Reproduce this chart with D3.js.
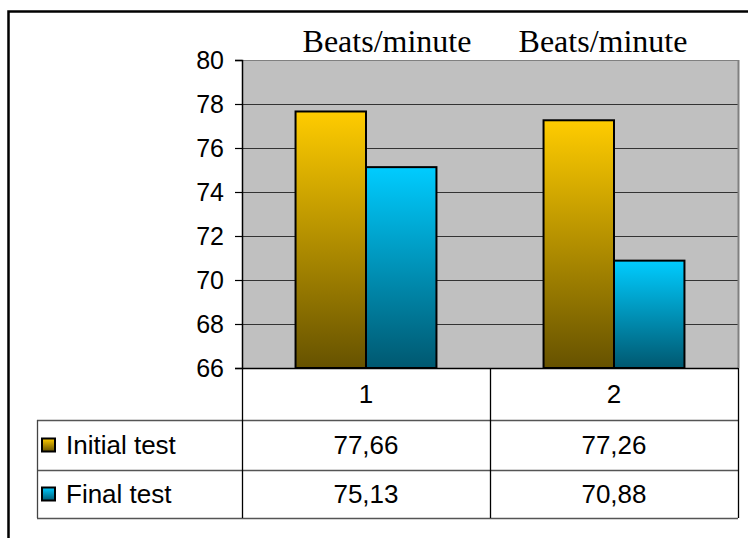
<!DOCTYPE html>
<html>
<head>
<meta charset="utf-8">
<script src="https://cdn.jsdelivr.net/npm/d3@7/dist/d3.min.js"></script>
<style>
  html, body { margin: 0; padding: 0; background: #fff; }
  svg { display: block; }
  text { font-family: "Liberation Sans", Arial, sans-serif; fill: #000; }
</style>
</head>
<body>
<svg id="chart" width="748" height="538"></svg>
<script>
// Heart rate (beats per minute) at the initial and final test, two groups
const categories = ["1", "2"];
const seriesNames = ["Initial test", "Final test"];
const initialTest = [77.66, 77.26];
const finalTest = [75.13, 70.88];
const valueLabels = [["77,66", "77,26"], ["75,13", "70,88"]];
const columnTitles = ["Beats/minute", "Beats/minute"];
const yTicks = [66, 68, 70, 72, 74, 76, 78, 80];

const seriesValues = [initialTest, finalTest];
const gradients = [
  { id: "gradInitial", top: "#FFCC00", bottom: "#665200" },
  { id: "gradFinal", top: "#00CCFF", bottom: "#005870" }
];

const svg = d3.select("#chart");
const W = 748, H = 538;
const plot = { left: 242, top: 60, right: 738, bottom: 368 };
const table = { left: 37, rowTop: 420, rowMid: 470, rowBottom: 518 };

svg.append("rect").attr("width", W).attr("height", H).attr("fill", "#fff");

// vertical gradients for bars and legend keys
const defs = svg.append("defs");
gradients.forEach(g => {
  const lg = defs.append("linearGradient").attr("id", g.id)
    .attr("x1", 0).attr("y1", 0).attr("x2", 0).attr("y2", 1);
  lg.append("stop").attr("offset", "0%").attr("stop-color", g.top);
  lg.append("stop").attr("offset", "100%").attr("stop-color", g.bottom);
});

// outer frame (top and left edges visible)
svg.append("path")
  .attr("d", `M8.5,${H} V11.5 H${W}`)
  .attr("fill", "none").attr("stroke", "#000").attr("stroke-width", 2.5);

// scales
const y = d3.scaleLinear().domain([66, 80]).range([plot.bottom, plot.top]);
const x = d3.scaleBand().domain(categories).range([plot.left, plot.right]).padding(0);
const xs = d3.scaleBand().domain(seriesNames).range([0, x.bandwidth()])
  .paddingInner(0).paddingOuter(0.76);

// plot background
svg.append("rect")
  .attr("x", plot.left).attr("y", plot.top)
  .attr("width", plot.right - plot.left).attr("height", plot.bottom - plot.top)
  .attr("fill", "#C0C0C0");

// horizontal gridlines
svg.append("g").selectAll("line")
  .data(yTicks.filter(t => t > 66))
  .join("line")
  .attr("x1", plot.left).attr("x2", plot.right)
  .attr("y1", d => Math.round(y(d)) + 0.5).attr("y2", d => Math.round(y(d)) + 0.5)
  .attr("stroke", d => d === 80 ? "#808080" : "#333")
  .attr("stroke-width", 1.2);

// right border of plot area
svg.append("line")
  .attr("x1", plot.right + 0.5).attr("x2", plot.right + 0.5)
  .attr("y1", plot.top).attr("y2", plot.bottom)
  .attr("stroke", "#808080").attr("stroke-width", 2);

// bars
const barG = svg.append("g");
seriesNames.forEach((s, si) => {
  barG.selectAll(null)
    .data(categories.map((c, ci) => ({ c, v: seriesValues[si][ci] })))
    .join("rect")
    .attr("x", d => x(d.c) + xs(s))
    .attr("y", d => y(d.v))
    .attr("width", xs.bandwidth())
    .attr("height", d => y(66) - y(d.v))
    .attr("fill", `url(#${gradients[si].id})`)
    .attr("stroke", "#000").attr("stroke-width", 2);
});

// y axis
const yAxis = d3.axisLeft(y).tickValues(yTicks).tickSize(7).tickPadding(11).tickFormat(d3.format("d"));
const ax = svg.append("g").attr("transform", `translate(${plot.left},0)`).call(yAxis);
ax.select(".domain").attr("stroke", "#000").attr("stroke-width", 1.5);
ax.selectAll(".tick line").attr("stroke", "#000").attr("stroke-width", 1.2);
ax.selectAll(".tick text")
  .attr("font-size", 25).attr("fill", "#000")
  .attr("font-family", "'Liberation Sans', Arial, sans-serif");

// column titles above each category
const titleOffsets = [21, -11];
svg.append("g").selectAll("text")
  .data(categories)
  .join("text")
  .attr("x", (d, i) => x(d) + x.bandwidth() / 2 + titleOffsets[i])
  .attr("y", 52)
  .attr("text-anchor", "middle")
  .style("font-family", "'Liberation Serif', 'Times New Roman', serif")
  .attr("font-size", 32)
  .text((d, i) => columnTitles[i]);

// data table below the plot
const tg = svg.append("g");
// bottom axis line of plot
tg.append("line")
  .attr("x1", plot.left).attr("x2", plot.right)
  .attr("y1", plot.bottom + 0.5).attr("y2", plot.bottom + 0.5)
  .attr("stroke", "#000").attr("stroke-width", 1.5);
// horizontal rules
[table.rowTop, table.rowMid, table.rowBottom].forEach(yy => {
  tg.append("line")
    .attr("x1", table.left).attr("x2", plot.right)
    .attr("y1", yy + 0.5).attr("y2", yy + 0.5)
    .attr("stroke", "#555").attr("stroke-width", 1.3);
});
// vertical rules
tg.append("line")
  .attr("x1", table.left + 0.5).attr("x2", table.left + 0.5)
  .attr("y1", table.rowTop).attr("y2", table.rowBottom)
  .attr("stroke", "#444").attr("stroke-width", 1.3);
[plot.left, x("2"), plot.right].forEach(xx => {
  tg.append("line")
    .attr("x1", xx + 0.5).attr("x2", xx + 0.5)
    .attr("y1", plot.bottom).attr("y2", table.rowBottom)
    .attr("stroke", "#000").attr("stroke-width", 1.3);
});

// category labels
tg.selectAll(".cat")
  .data(categories)
  .join("text")
  .attr("class", "cat")
  .attr("x", d => x(d) + x.bandwidth() / 2)
  .attr("y", (plot.bottom + table.rowTop) / 2)
  .attr("dy", "0.36em")
  .attr("text-anchor", "middle")
  .attr("font-size", 26)
  .text(d => d);

// legend rows with values
const rowCenters = [(table.rowTop + table.rowMid) / 2, (table.rowMid + table.rowBottom) / 2];
seriesNames.forEach((s, si) => {
  const cy = rowCenters[si];
  tg.append("rect")
    .attr("x", 42).attr("y", cy - 6.5)
    .attr("width", 13).attr("height", 13)
    .attr("fill", `url(#${gradients[si].id})`)
    .attr("stroke", "#000").attr("stroke-width", 2);
  tg.append("text")
    .attr("x", 66).attr("y", cy).attr("dy", "0.36em")
    .attr("font-size", 26)
    .text(s);
  categories.forEach((c, ci) => {
    tg.append("text")
      .attr("x", x(c) + x.bandwidth() / 2)
      .attr("y", cy).attr("dy", "0.36em")
      .attr("text-anchor", "middle")
      .attr("font-size", 26)
      .text(valueLabels[si][ci]);
  });
});
</script>
</body>
</html>
